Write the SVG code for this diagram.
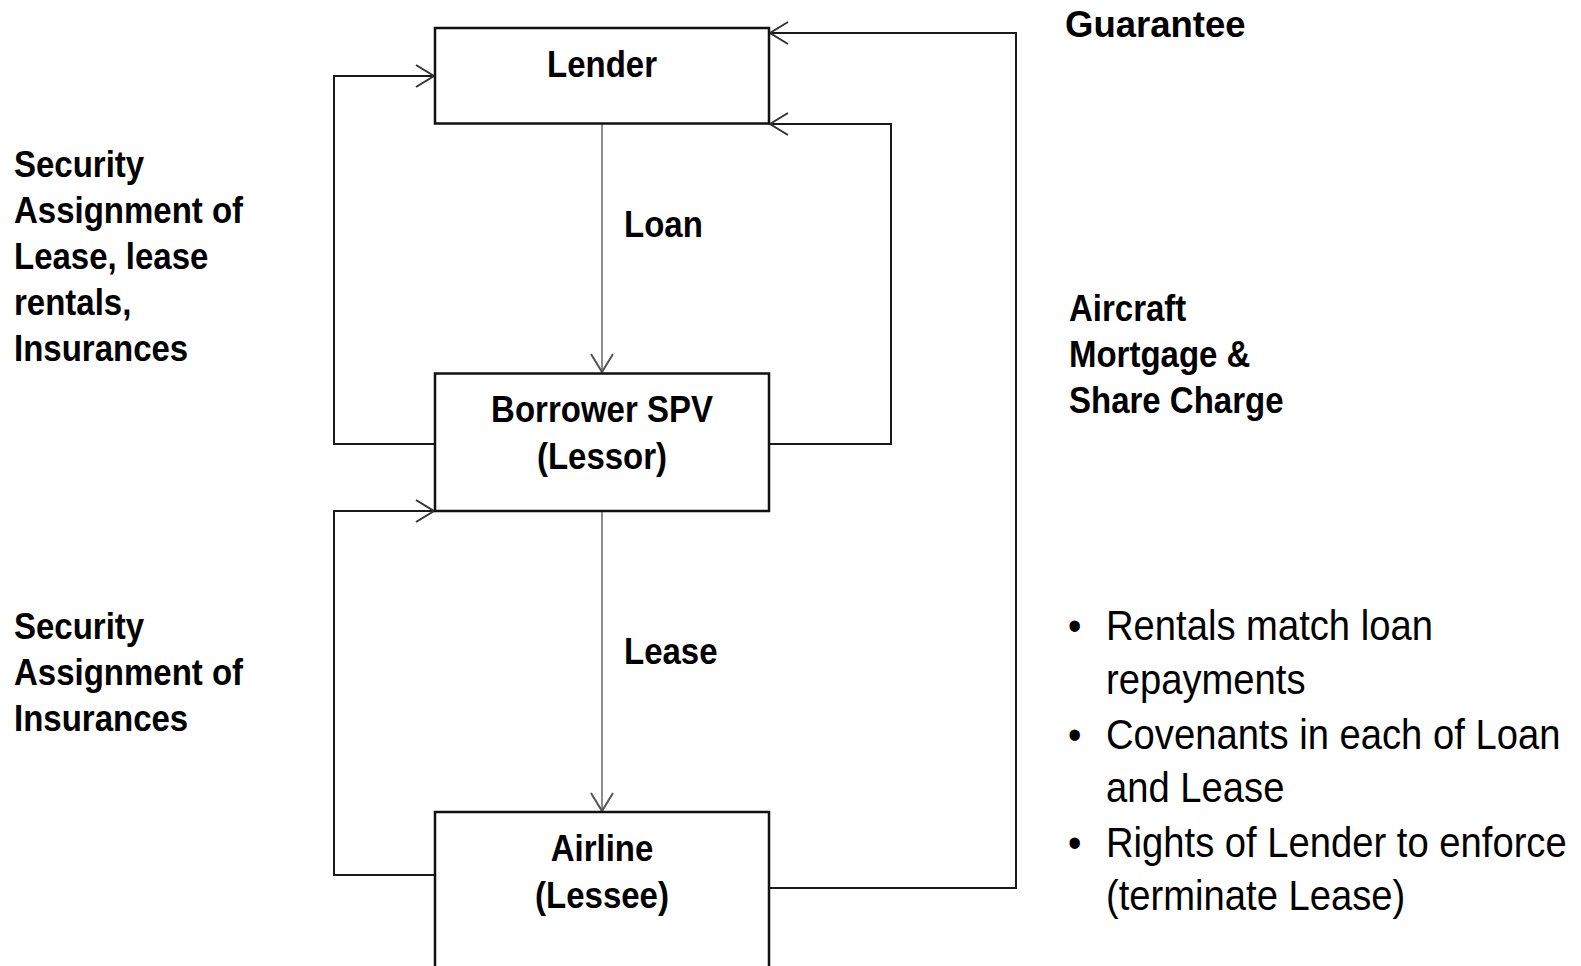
<svg xmlns="http://www.w3.org/2000/svg" width="1581" height="966" viewBox="0 0 1581 966">
<style>
.box{fill:#fff;stroke:#111;stroke-width:2.5}
.conn{fill:none;stroke:#1a1a1a;stroke-width:2}
.flow{fill:none;stroke:#8c8c8c;stroke-width:2}
.b{font-family:"Liberation Sans",Arial,sans-serif;font-weight:bold;font-size:33px;fill:#000}
.c{text-anchor:middle}
.r{font-family:"Liberation Sans",Arial,sans-serif;font-size:38.2px;fill:#000}
</style>
<defs>
<marker id="ah" markerUnits="userSpaceOnUse" markerWidth="24" markerHeight="28" viewBox="-20 -14 24 28" refX="0" refY="0" orient="auto">
<path d="M -18 -11 L 0 0 L -18 11" fill="none" stroke="#333" stroke-width="2"/>
</marker>
<marker id="ahg" markerUnits="userSpaceOnUse" markerWidth="24" markerHeight="28" viewBox="-20 -14 24 28" refX="0" refY="0" orient="auto">
<path d="M -18 -11 L 0 0 L -18 11" fill="none" stroke="#555" stroke-width="2"/>
</marker>
</defs>
<rect width="1581" height="966" fill="#fff"/>
<g id="connectors">
<path class="flow" d="M 602 124 L 602 372" marker-end="url(#ahg)"/>
<path class="flow" d="M 602 512 L 602 811" marker-end="url(#ahg)"/>
<path class="conn" d="M 435 444 L 334 444 L 334 76 L 434 76" marker-end="url(#ah)"/>
<path class="conn" d="M 435 875 L 334 875 L 334 511 L 434 511" marker-end="url(#ah)"/>
<path class="conn" d="M 769 444 L 891 444 L 891 124 L 770 124" marker-end="url(#ah)"/>
<path class="conn" d="M 769 888 L 1016 888 L 1016 33 L 770 33" marker-end="url(#ah)"/>
</g>
<g id="lender">
<rect class="box" x="435" y="28" width="334" height="95.5"/>
<text class="b c" transform="translate(602,77) scale(1,1.1)">Lender</text>
</g>
<g id="borrower">
<rect class="box" x="435" y="373.5" width="334" height="137.5"/>
<text class="b c" transform="translate(602,422) scale(1,1.1)">Borrower SPV</text>
<text class="b c" transform="translate(602,469) scale(1,1.1)">(Lessor)</text>
</g>
<g id="airline">
<rect class="box" x="435" y="812" width="334" height="170"/>
<text class="b c" transform="translate(602,861) scale(1,1.1)">Airline</text>
<text class="b c" transform="translate(602,908) scale(1,1.1)">(Lessee)</text>
</g>
<g id="label-loan">
<text class="b" transform="translate(624,237) scale(1,1.1)">Loan</text>
</g>
<g id="label-lease">
<text class="b" transform="translate(624,664) scale(1,1.1)">Lease</text>
</g>
<g id="label-security1">
<text class="b" transform="translate(14,177) scale(1,1.1)">Security</text>
<text class="b" transform="translate(14,223) scale(1,1.1)">Assignment of</text>
<text class="b" transform="translate(14,269) scale(1,1.1)">Lease, lease</text>
<text class="b" transform="translate(14,315) scale(1,1.1)">rentals,</text>
<text class="b" transform="translate(14,361) scale(1,1.1)">Insurances</text>
</g>
<g id="label-security2">
<text class="b" transform="translate(14,639) scale(1,1.1)">Security</text>
<text class="b" transform="translate(14,685) scale(1,1.1)">Assignment of</text>
<text class="b" transform="translate(14,731) scale(1,1.1)">Insurances</text>
</g>
<g id="label-guarantee">
<text x="1065" y="37" font-family="Liberation Sans, Arial, sans-serif" font-weight="bold" font-size="36.5">Guarantee</text>
</g>
<g id="label-mortgage">
<text class="b" transform="translate(1069,321) scale(1,1.1)">Aircraft</text>
<text class="b" transform="translate(1069,367) scale(1,1.1)">Mortgage &amp;</text>
<text class="b" transform="translate(1069,413) scale(1,1.1)">Share Charge</text>
</g>
<g id="notes">
<text class="r" transform="translate(1068,640) scale(1,1.12)" font-size="32">•</text>
<text class="r" transform="translate(1106,640) scale(1,1.12)">Rentals match loan</text>
<text class="r" transform="translate(1106,694) scale(1,1.12)">repayments</text>
<text class="r" transform="translate(1068,749) scale(1,1.12)" font-size="32">•</text>
<text class="r" transform="translate(1106,749) scale(1,1.12)">Covenants in each of Loan</text>
<text class="r" transform="translate(1106,802) scale(1,1.12)">and Lease</text>
<text class="r" transform="translate(1068,857) scale(1,1.12)" font-size="32">•</text>
<text class="r" transform="translate(1106,857) scale(1,1.12)">Rights of Lender to enforce</text>
<text class="r" transform="translate(1106,910) scale(1,1.12)">(terminate Lease)</text>
</g>
</svg>
